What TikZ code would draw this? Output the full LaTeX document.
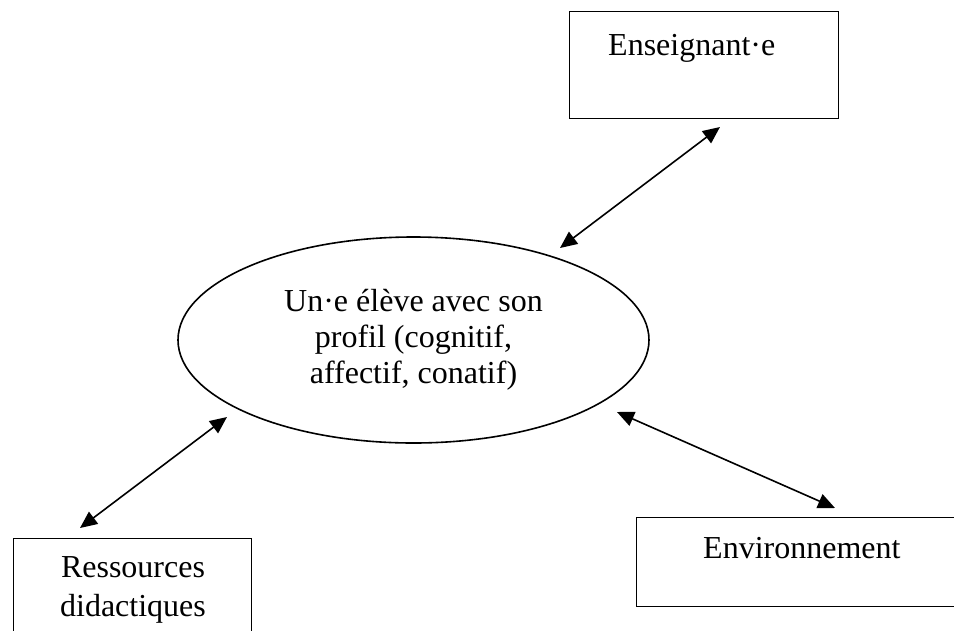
\documentclass[tikz,border=0pt]{standalone}
\usepackage{fontspec}
\setmainfont{Liberation Serif}
\usetikzlibrary{arrows.meta,shapes.geometric}
\begin{document}
\begin{tikzpicture}[x=1pt,y=-1pt,
  box/.style={draw,line width=1.4pt,inner sep=0pt},
  lbl/.style={font=\fontsize{32}{36}\selectfont,inner sep=0pt,align=center},
  link/.style={line width=1.6pt,{Triangle[length=17pt,width=15pt]}-{Triangle[length=17pt,width=15pt]}}]
\useasboundingbox (0,0) rectangle (954,630);
\fill[white] (0,0) rectangle (954,630);
\clip (0,0) rectangle (954,630);
% central ellipse
\node[ellipse,draw,line width=1.6pt,minimum width=471pt,minimum height=206pt,lbl] (eleve) at (413.5,340)
  {Un·e élève avec son\\profil (cognitif,\\affectif, conatif)};
% boxes
\node[box,anchor=north west,minimum width=269pt,minimum height=107pt] (ensbox) at (569,11) {};
\node[lbl,anchor=base west] (ens) at (608,55) {Enseignant·e};
\node[box,anchor=north west,minimum width=330pt,minimum height=89pt] (envbox) at (636,517) {};
\node[lbl,anchor=base west] (env) at (703,558) {Environnement};
\node[box,anchor=north west,minimum width=238pt,minimum height=120pt] (resbox) at (13,538) {};
\node[lbl,font=\fontsize{32}{39}\selectfont] (res) at (133,590) {Ressources\\didactiques};
% connector ends
\coordinate (e1) at (560,248);
\coordinate (e2) at (720,127);
\coordinate (v1) at (617,412);
\coordinate (v2) at (835,508);
\coordinate (r1) at (227,417);
\coordinate (r2) at (80,528);
\draw[link] (e1) -- (e2);
\draw[link] (v1) -- (v2);
\draw[link] (r1) -- (r2);
\end{tikzpicture}
\end{document}
